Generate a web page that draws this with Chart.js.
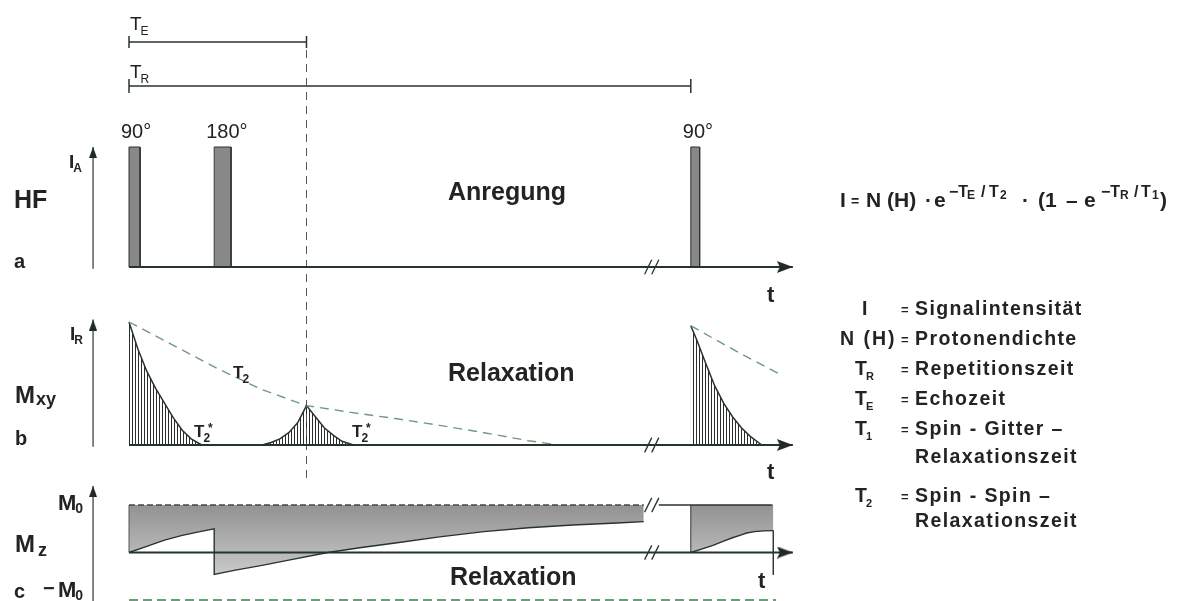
<!DOCTYPE html>
<html>
<head>
<meta charset="utf-8">
<script src="https://cdn.jsdelivr.net/npm/chart.js@4.4.1/dist/chart.umd.min.js"></script>
<style>
html,body{margin:0;padding:0;background:#ffffff;}
#wrap{width:1184px;height:601px;position:relative;}
</style>
</head>
<body>
<div id="wrap"><canvas id="c" width="1184" height="601"></canvas></div>
<script>
// ================= DATA =================
const echoTime = 20;          // T_E
const repetitionTime = 63.3;  // T_R
const breakTime = 58.9;       // position of the "//" axis break
const axisEndTime = 74.8;     // arrow tip of the t-axes

const pulseLabels = ['90°', '180°', '90°'];
const pulseStart = [0, 9.6, 63.3];
const pulseWidth = [1.25, 1.9, 1.0];
const pulseAmplitude = [1, 1, 1];

// transverse magnetisation M_xy
const fidTime = [0, 1, 2, 3, 4, 5, 6, 7, 8.2];
const fidMxy = [1.0, 0.78, 0.6, 0.46, 0.34, 0.22, 0.12, 0.05, 0];
const spinEchoTime = [15, 16, 17, 18, 19, 20, 21, 22, 23, 24, 25.3];
const spinEchoMxy = [0, 0.02, 0.05, 0.1, 0.18, 0.32, 0.23, 0.14, 0.08, 0.03, 0];
const t2Time = [0, 5, 10, 15, 20, 25, 30, 35, 40, 45, 48.5];
const t2Mxy = [1, 0.81, 0.62, 0.45, 0.32, 0.265, 0.215, 0.16, 0.1, 0.035, 0];
const fid2Time = [63.3, 64, 65, 66, 67, 68, 69, 70, 71.3];
const fid2Mxy = [0.97, 0.85, 0.66, 0.48, 0.34, 0.23, 0.14, 0.07, 0];
const t2bTime = [63.3, 66, 69, 73.1];
const t2bMxy = [0.97, 0.86, 0.74, 0.585];

// longitudinal magnetisation M_z
const mzTime = [0, 2, 4, 6, 8, 9.6, 9.6, 12, 15, 18, 22.4, 26, 30, 35, 40, 45, 50, 55, 58];
const mzValue = [0, 0.13, 0.26, 0.36, 0.44, 0.5, -0.46, -0.37, -0.27, -0.16, 0, 0.1, 0.2, 0.33, 0.44, 0.52, 0.58, 0.62, 0.65];
const mz2Time = [63.3, 64.5, 65.8, 67, 68, 69, 69.6, 70.5, 71.5, 72.6];
const mz2Value = [0, 0.07, 0.15, 0.24, 0.31, 0.37, 0.41, 0.44, 0.455, 0.46];
const m0Level = 1;
const m0LineEnd = 58;
const m0SolidStart = 59.7;
const m0SolidEnd = 72.5;
const minusM0End = 72.9;

const legendSymbols = ['I', 'N (H)', 'T_R', 'T_E', 'T_1', '', 'T_2', ''];
const legendTexts = ['Signalintensität', 'Protonendichte', 'Repetitionszeit', 'Echozeit',
                     'Spin - Gitter –', 'Relaxationszeit', 'Spin - Spin –', 'Relaxationszeit'];

// ================= LAYOUT / STYLE =================
const W = 1184, H = 601;
const INK = '#232323';
const LINE = '#25352a';
const DASHGREEN = '#6f9a7d';
const FF = '"Liberation Sans", Arial, Helvetica, sans-serif';
const axisT = -4.05;            // time position of the vertical (amplitude) arrows
const rowTE = 42, rowTR = 86;   // pixel rows of the T_E / T_R bars
const teLineTop = 50, teLineBottom = 482;

function xRange(v0, p0, v1, p1) { const per = (p1 - p0) / (v1 - v0); return {min: v0 - p0 / per, max: v0 + (W - p0) / per}; }
function yRange(v0, p0, v1, p1) { const per = (p0 - p1) / (v1 - v0); return {min: v0 - (H - p0) / per, max: v0 + p0 / per}; }

const xR = xRange(0, 129, echoTime, 306.5);
const yAR = yRange(0, 267, 1, 147);
const yBR = yRange(0, 445, 1, 322);
const yCR = yRange(0, 552.5, 1, 505);

const canvas = document.getElementById('c');
const mainCtx = canvas.getContext('2d');

// vertical hatching pattern
const hc = document.createElement('canvas'); hc.width = 3; hc.height = 3;
const hg = hc.getContext('2d'); hg.fillStyle = '#2c2c2c'; hg.fillRect(0, 0, 1, 3);
const hatch = mainCtx.createPattern(hc, 'repeat');

// arrowheads (tip at the image centre)
function arrowRight(L, h) {
  const c = document.createElement('canvas'); c.width = 2 * L; c.height = 2 * h;
  const g = c.getContext('2d'); g.fillStyle = '#1f2a22';
  g.beginPath(); g.moveTo(L, h); g.lineTo(0, 0); g.lineTo(3, h); g.lineTo(0, 2 * h); g.closePath(); g.fill();
  return c;
}
function arrowUp(L, h) {
  const c = document.createElement('canvas'); c.width = 2 * h; c.height = 2 * L;
  const g = c.getContext('2d'); g.fillStyle = '#1f2a22';
  g.beginPath(); g.moveTo(h, L); g.lineTo(0, 2 * L); g.lineTo(2 * h, 2 * L); g.closePath(); g.fill();
  return c;
}
const arrR = arrowRight(16, 6);
const arrU = arrowUp(11, 4);

const pts = (xs, ys) => xs.map((x, i) => ({x, y: ys[i]}));

function lineDS(data, yAxisID, extra) {
  return Object.assign({
    type: 'line', data, yAxisID, xAxisID: 'x',
    borderColor: LINE, borderWidth: 1.5, pointRadius: 0, fill: false, tension: 0, order: 3
  }, extra || {});
}
function arrowDS(data, yAxisID, img, extra) {
  return lineDS(data, yAxisID, Object.assign({
    pointRadius: data.map((d, i) => i === data.length - 1 ? 5 : 0),
    pointStyle: data.map((d, i) => i === data.length - 1 ? img : 'circle'),
    pointBorderWidth: 0, order: 1
  }, extra || {}));
}
function breakDS(yAxisID, center, halfH, extra) {
  const dx = 0.8;
  return lineDS([
    {x: breakTime - dx, y: center - halfH}, {x: breakTime, y: center + halfH}, {x: breakTime + 0.01, y: null},
    {x: breakTime, y: center - halfH}, {x: breakTime + dx, y: center + halfH}
  ], yAxisID, Object.assign({borderWidth: 1.3, order: 0, spanGaps: false}, extra || {}));
}
function mzGradient(context) {
  const chart = context.chart; const sc = chart.scales && chart.scales.yC;
  if (!sc || !chart.chartArea) return '#a8a8a8';
  const g = chart.ctx.createLinearGradient(0, sc.getPixelForValue(1), 0, sc.getPixelForValue(-0.5));
  g.addColorStop(0, '#929292'); g.addColorStop(1, '#cbcbcb');
  return g;
}

const datasets = [];
// timing bars
datasets.push(lineDS([{x: 0, y: rowTE}, {x: echoTime, y: rowTE}], 'yPx',
  {borderWidth: 1.6, pointStyle: 'line', rotation: 90, pointRadius: 6, pointBorderWidth: 1.5, pointBorderColor: LINE}));
datasets.push(lineDS([{x: 0, y: rowTR}, {x: repetitionTime, y: rowTR}], 'yPx',
  {borderWidth: 1.6, pointStyle: 'line', rotation: 90, pointRadius: 7, pointBorderWidth: 1.5, pointBorderColor: LINE}));
// T_E marker
datasets.push(lineDS([{x: echoTime, y: teLineTop}, {x: echoTime, y: teLineBottom}], 'yPx',
  {borderWidth: 1, borderColor: '#555', borderDash: [8, 6], order: 2}));

// ---- panel a: HF pulses
pulseStart.forEach((s, i) => {
  const e = s + pulseWidth[i], a = pulseAmplitude[i];
  datasets.push(lineDS([{x: s, y: 0}, {x: s, y: a}, {x: e, y: a}, {x: e, y: 0}], 'yA',
    {fill: 'origin', backgroundColor: '#888888', borderColor: '#303030', borderWidth: 1, order: 5}));
});
datasets.push(arrowDS([{x: 0, y: 0}, {x: axisEndTime, y: 0}], 'yA', arrR, {borderWidth: 2}));
datasets.push(arrowDS([{x: axisT, y: -0.015}, {x: axisT, y: 1.0}], 'yA', arrU, {borderWidth: 1.2, borderColor: '#333'}));
datasets.push(breakDS('yA', 0, 0.06));

// ---- panel b: M_xy
datasets.push(lineDS(pts(fidTime, fidMxy), 'yB', {fill: 'origin', backgroundColor: hatch, borderWidth: 1.5, order: 5}));
datasets.push(lineDS(pts(spinEchoTime, spinEchoMxy), 'yB', {fill: 'origin', backgroundColor: hatch, borderWidth: 1.5, order: 5}));
datasets.push(lineDS(pts(fid2Time, fid2Mxy), 'yB', {fill: 'origin', backgroundColor: hatch, borderWidth: 1.5, order: 5}));
datasets.push(lineDS(pts(t2Time, t2Mxy), 'yB', {borderColor: DASHGREEN, borderDash: [9, 6], borderWidth: 1.4, order: 4}));
datasets.push(lineDS(pts(t2bTime, t2bMxy), 'yB', {borderColor: DASHGREEN, borderDash: [9, 6], borderWidth: 1.4, order: 4}));
datasets.push(arrowDS([{x: 0, y: 0}, {x: axisEndTime, y: 0}], 'yB', arrR, {borderWidth: 2}));
datasets.push(arrowDS([{x: axisT, y: -0.015}, {x: axisT, y: 1.02}], 'yB', arrU, {borderWidth: 1.2, borderColor: '#333'}));
datasets.push(breakDS('yB', 0, 0.06));

// ---- panel c: M_z
datasets.push(lineDS(pts(mzTime, mzValue), 'yC', {fill: {value: m0Level}, backgroundColor: mzGradient, borderWidth: 1.4, order: 6}));
datasets.push(lineDS(pts(mz2Time, mz2Value), 'yC', {fill: {value: m0Level}, backgroundColor: mzGradient, borderWidth: 1.4, order: 6}));
datasets.push(lineDS([{x: 0, y: 0}, {x: 0, y: m0Level}], 'yC', {borderWidth: 1, borderColor: '#555'}));
datasets.push(lineDS([{x: mz2Time[0], y: 0}, {x: mz2Time[0], y: m0Level}], 'yC', {borderWidth: 1, borderColor: '#333'}));
datasets.push(lineDS([{x: mz2Time[mz2Time.length - 1], y: mz2Value[mz2Value.length - 1]}, {x: mz2Time[mz2Time.length - 1], y: -0.47}], 'yC', {borderWidth: 1, borderColor: '#333'}));
datasets.push(lineDS([{x: 0, y: m0Level}, {x: m0LineEnd, y: m0Level}], 'yC', {borderDash: [6, 3], borderColor: '#3e4a40', borderWidth: 1.6}));
datasets.push(lineDS([{x: m0SolidStart, y: m0Level}, {x: m0SolidEnd, y: m0Level}], 'yC', {borderWidth: 1.6}));
datasets.push(lineDS([{x: 0, y: -m0Level}, {x: minusM0End, y: -m0Level}], 'yC', {borderDash: [9, 5], borderColor: DASHGREEN, borderWidth: 2}));
datasets.push(arrowDS([{x: 0, y: 0}, {x: axisEndTime, y: 0}], 'yC', arrR, {borderWidth: 2}));
datasets.push(arrowDS([{x: axisT, y: -1.05}, {x: axisT, y: 1.4}], 'yC', arrU, {borderWidth: 1.2, borderColor: '#333'}));
datasets.push(breakDS('yC', 0, 0.15));
datasets.push(breakDS('yC', m0Level, 0.15));

// ================= TEXT =================
function put(ctx, s, x, y, size, bold, spacing) {
  ctx.font = (bold ? 'bold ' : '') + size + 'px ' + FF;
  if ('letterSpacing' in ctx) ctx.letterSpacing = (spacing || 0) + 'px';
  ctx.fillText(s, x, y);
  const w = ctx.measureText(s).width;
  if ('letterSpacing' in ctx) ctx.letterSpacing = '0px';
  return w;
}
function sym(ctx, s, x, y, size, subSize, bold, subDy) {
  const parts = s.split('_');
  const w = put(ctx, parts[0], x, y, size, bold);
  if (parts[1]) put(ctx, parts[1], x + w - 1, y + (subDy || 4), subSize, bold);
}

const textPlugin = {
  id: 'texts',
  afterDatasetsDraw(chart) {
    const ctx = chart.ctx; const xs = chart.scales.x;
    ctx.save(); ctx.fillStyle = INK; ctx.textBaseline = 'alphabetic'; ctx.textAlign = 'left';
    // timing labels
    sym(ctx, 'T_E', 130, 30, 19, 12, false, 5);
    sym(ctx, 'T_R', 130, 78, 19, 12, false, 5);
    // pulse labels
    pulseLabels.forEach((l, i) => put(ctx, l, xs.getPixelForValue(pulseStart[i]) - 8, 138, 20, false));
    // panel a
    sym(ctx, 'I_A', 69, 168, 19, 12, true, 4);
    put(ctx, 'HF', 14, 208, 25, true);
    put(ctx, 'a', 14, 268, 20, true);
    put(ctx, 'Anregung', 448, 200, 25, true);
    put(ctx, 't', 767, 302, 22, true);
    // formula
    const B = 21, S = 16, SS = 12, yb = 207, ys = 197, yss = 199;
    const runs = [
      ['I', 840, yb, B], ['=', 851, yb - 1, 14], ['N (H)', 866, yb, B], ['·', 925, yb, B], ['e', 934, yb, B],
      ['−T', 949, ys, S], ['E', 967, yss, SS], ['/', 981, ys, S], ['T', 989, ys, S], ['2', 1000, yss, SS],
      ['·', 1022, yb, B], ['(1', 1038, yb, B], ['–', 1066, yb, B], ['e', 1084, yb, B],
      ['−T', 1101, ys, S], ['R', 1120, yss, SS], ['/', 1134, ys, S], ['T', 1141, ys, S], ['1', 1152, yss, SS],
      [')', 1160, yb, B]
    ];
    runs.forEach(r => put(ctx, r[0], r[1], r[2], r[3], true));
    // panel b
    sym(ctx, 'I_R', 70, 340, 19, 12, true, 4);
    put(ctx, 'M', 15, 403, 24, true); put(ctx, 'xy', 36, 405, 18, true);
    put(ctx, 'b', 15, 445, 20, true);
    sym(ctx, 'T_2', 233, 378, 17, 12, true, 5);
    sym(ctx, 'T_2', 194, 437, 17, 12, true, 5); put(ctx, '*', 208, 432, 12, true);
    sym(ctx, 'T_2', 352, 437, 17, 12, true, 5); put(ctx, '*', 366, 432, 12, true);
    put(ctx, 'Relaxation', 448, 381, 25, true);
    put(ctx, 't', 767, 479, 22, true);
    // panel c
    sym(ctx, 'M_0', 58, 510, 22, 14, true, 3);
    put(ctx, 'M', 15, 552, 24, true); put(ctx, 'z', 38, 556, 18, true);
    put(ctx, '−', 43, 595, 20, true);
    sym(ctx, 'M_0', 58, 597, 22, 14, true, 3);
    put(ctx, 'c', 14, 598, 20, true);
    put(ctx, 'Relaxation', 450, 585, 25, true);
    put(ctx, 't', 758, 588, 22, true);
    // legend
    const rows = [315, 345, 375, 405, 435, 463, 502, 527];
    const symX = [862, 840, 855, 855, 855, 0, 855, 0];
    legendTexts.forEach((t, i) => {
      const s = legendSymbols[i];
      if (s) {
        if (s.indexOf('_') >= 0) sym(ctx, s, symX[i], rows[i], 19.5, 11, true, 5);
        else put(ctx, s, symX[i], rows[i], 19.5, true, 2);
        put(ctx, '=', 901, rows[i] - 1, 13, true);
      }
      put(ctx, t, 915, rows[i], 19.5, true, 1.4);
    });
    ctx.restore();
  }
};

new Chart(canvas, {
  type: 'line',
  data: {datasets},
  options: {
    responsive: false, animation: false, events: [],
    layout: {padding: 0, autoPadding: false},
    plugins: {legend: {display: false}, tooltip: {enabled: false}, title: {display: false}},
    scales: {
      x: {type: 'linear', display: false, min: xR.min, max: xR.max},
      yA: {type: 'linear', display: false, min: yAR.min, max: yAR.max},
      yB: {type: 'linear', display: false, min: yBR.min, max: yBR.max},
      yC: {type: 'linear', display: false, min: yCR.min, max: yCR.max},
      yPx: {type: 'linear', display: false, min: 0, max: H, reverse: true}
    }
  },
  plugins: [textPlugin]
});
</script>
</body>
</html>
